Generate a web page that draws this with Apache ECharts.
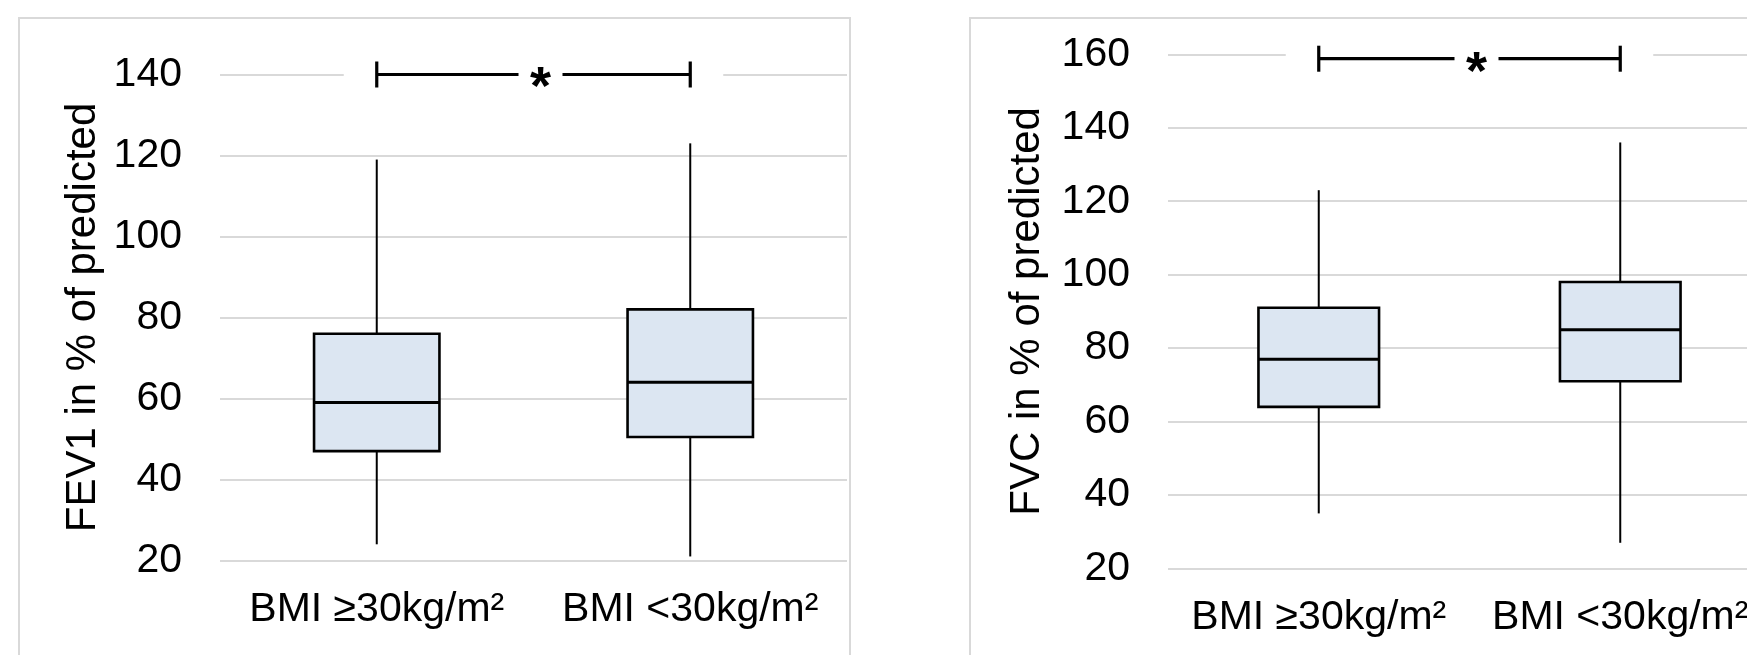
<!DOCTYPE html>
<html><head><meta charset="utf-8">
<script src="https://cdn.jsdelivr.net/npm/echarts@6/dist/echarts.min.js"></script>
<style>html,body{margin:0;padding:0;background:#fff;overflow:hidden;width:1747px;height:655px}#c{width:1800px;height:655px}</style>
</head><body><div id="c"></div>
<script>
// ---- data ----
const categories = ['BMI \u226530kg/m\u00b2', 'BMI <30kg/m\u00b2'];
// each row: [min, q1, median, q3, max]
const fev1Stats = [[24, 47, 59, 76, 119], [21, 50.5, 64, 82, 123]];
const fvcStats = [[35, 64, 77, 91, 123], [27, 71, 85, 98, 136]];
const fev1Ticks = [20, 40, 60, 80, 100, 120, 140];
const fvcTicks = [20, 40, 60, 80, 100, 120, 140, 160];
const fev1Title = 'FEV1 in % of predicted';
const fvcTitle = 'FVC in % of predicted';
const sigLabel = '*';
const fev1Sig = [0, 1, 140];     // from category, to category, level
const fvcSig = [0, 1, 158.8];

const FONT = '"Liberation Sans", Arial, sans-serif';

function renderBox(params, api) {
  const c = api.value(0);
  const pMin = api.coord([c, api.value(1)]);
  const pQ1 = api.coord([c, api.value(2)]);
  const pMed = api.coord([c, api.value(3)]);
  const pQ3 = api.coord([c, api.value(4)]);
  const pMax = api.coord([c, api.value(5)]);
  const w = api.size([1, 0])[0] * 0.4;
  const x = pMed[0];
  return {type: 'group', children: [
    {type: 'line', shape: {x1: x, y1: pMax[1], x2: x, y2: pQ3[1]}, style: {stroke: '#000', lineWidth: 2}},
    {type: 'line', shape: {x1: x, y1: pQ1[1], x2: x, y2: pMin[1]}, style: {stroke: '#000', lineWidth: 2}},
    {type: 'rect', shape: {x: x - w / 2, y: pQ3[1], width: w, height: pQ1[1] - pQ3[1]}, style: {fill: '#dce6f2', stroke: '#000', lineWidth: 2.6}},
    {type: 'line', shape: {x1: x - w / 2, y1: pMed[1], x2: x + w / 2, y2: pMed[1]}, style: {stroke: '#000', lineWidth: 3}}
  ]};
}

function renderSig(params, api) {
  const a = api.coord([api.value(0), api.value(2)]);
  const b = api.coord([api.value(1), api.value(2)]);
  const y = a[1];
  const mid = (a[0] + b[0]) / 2 + 7;
  const gap = 22, th = 13;
  const ls = {stroke: '#000', lineWidth: 3.2};
  return {type: 'group', children: [
    {type: 'rect', shape: {x: a[0] - 33, y: y - 10, width: b[0] - a[0] + 66, height: 16}, style: {fill: '#fff'}},
    {type: 'line', shape: {x1: a[0], y1: y, x2: mid - gap, y2: y}, style: ls},
    {type: 'line', shape: {x1: mid + gap, y1: y, x2: b[0], y2: y}, style: ls},
    {type: 'line', shape: {x1: a[0], y1: y - th, x2: a[0], y2: y + th}, style: ls},
    {type: 'line', shape: {x1: b[0], y1: y - th, x2: b[0], y2: y + th}, style: ls},
    {type: 'text', style: {text: sigLabel, x: mid, y: y + 15, font: 'bold 54px ' + FONT,
      textAlign: 'center', textVerticalAlign: 'middle', align: 'center', verticalAlign: 'middle', fill: '#000'}}
  ]};
}

function yAxisFor(ticks, gridIndex, title, gap) {
  return {
    type: 'value', gridIndex: gridIndex,
    min: ticks[0], max: ticks[ticks.length - 1], interval: ticks[1] - ticks[0],
    name: title, nameLocation: 'middle', nameRotate: 90, nameGap: gap,
    nameTextStyle: {fontSize: 42, color: '#000', fontFamily: FONT},
    axisLine: {show: false}, axisTick: {show: false},
    axisLabel: {fontSize: 41, color: '#000', margin: 38, fontFamily: FONT},
    splitLine: {show: true, lineStyle: {color: '#d9d9d9', width: 2}}
  };
}
function xAxisFor(gridIndex) {
  return {
    type: 'category', gridIndex: gridIndex, data: categories,
    axisLine: {show: false}, axisTick: {show: false},
    axisLabel: {fontSize: 41, color: '#000', margin: 29, interval: 0, fontFamily: FONT}
  };
}

const chart = echarts.init(document.getElementById('c'));
chart.setOption({
  animation: false,
  backgroundColor: '#fff',
  textStyle: {fontFamily: FONT},
  graphic: [
    {type: 'rect', z: -10, shape: {x: 19, y: 18, width: 831, height: 700}, style: {fill: 'none', stroke: '#d9d9d9', lineWidth: 2}},
    {type: 'rect', z: -10, shape: {x: 970, y: 18, width: 900, height: 700}, style: {fill: 'none', stroke: '#d9d9d9', lineWidth: 2}}
  ],
  grid: [
    {left: 220, top: 74.5, width: 627, height: 486, outerBoundsMode: 'none'},
    {left: 1168, top: 54.3, width: 603, height: 514.2, outerBoundsMode: 'none'}
  ],
  xAxis: [xAxisFor(0), xAxisFor(1)],
  yAxis: [yAxisFor(fev1Ticks, 0, fev1Title, 116), yAxisFor(fvcTicks, 1, fvcTitle, 120)],
  series: [
    {type: 'custom', xAxisIndex: 0, yAxisIndex: 0, renderItem: renderBox,
      encode: {x: 0, y: [1, 2, 3, 4, 5]}, data: fev1Stats.map((s, i) => [i].concat(s))},
    {type: 'custom', xAxisIndex: 1, yAxisIndex: 1, renderItem: renderBox,
      encode: {x: 0, y: [1, 2, 3, 4, 5]}, data: fvcStats.map((s, i) => [i].concat(s))},
    {type: 'custom', xAxisIndex: 0, yAxisIndex: 0, renderItem: renderSig, z: 5,
      encode: {x: [0, 1], y: 2}, data: [fev1Sig]},
    {type: 'custom', xAxisIndex: 1, yAxisIndex: 1, renderItem: renderSig, z: 5,
      encode: {x: [0, 1], y: 2}, data: [fvcSig]}
  ]
});
</script></body></html>
